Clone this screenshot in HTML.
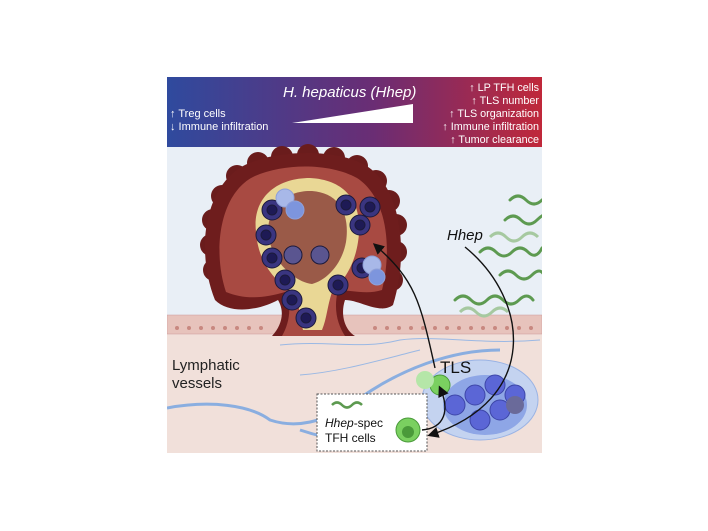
<!DOCTYPE html>
<html><head><meta charset="utf-8"><style>
html,body{margin:0;padding:0;background:#fff;width:708px;height:531px;overflow:hidden}
svg{display:block}
text{font-family:"Liberation Sans",sans-serif}
</style></head><body>
<svg width="708" height="531" viewBox="0 0 708 531" xmlns="http://www.w3.org/2000/svg">
<defs>
<linearGradient id="ban" x1="0" x2="1" y1="0" y2="0">
<stop offset="0" stop-color="#2f4a9e"/><stop offset="0.55" stop-color="#6a2d74"/><stop offset="1" stop-color="#c0283a"/>
</linearGradient>
<clipPath id="cp"><rect x="167" y="77" width="375" height="376"/></clipPath>
<marker id="ah" markerWidth="8" markerHeight="8" refX="6" refY="4" orient="auto"><path d="M0,0 L8,4 L0,8 z" fill="#111"/></marker>
</defs>
<g clip-path="url(#cp)">
<rect x="167" y="147" width="375" height="168" fill="#e9eff6"/>
<rect x="167" y="333" width="375" height="120" fill="#f1e0da"/>
<rect x="167" y="77" width="375" height="70" fill="url(#ban)"/>
<text x="283" y="97" fill="#fff" font-size="15" font-style="italic">H. hepaticus (Hhep)</text>
<polygon points="292,123 413,104 413,123" fill="#fff"/>
<text x="170" y="117" fill="#fff" font-size="11">↑ Treg cells</text>
<text x="170" y="130" fill="#fff" font-size="11">↓ Immune infiltration</text>
<g fill="#fff" font-size="10.8" text-anchor="end">
<text x="539" y="91">↑ LP TFH cells</text>
<text x="539" y="104">↑ TLS number</text>
<text x="539" y="117">↑ TLS organization</text>
<text x="539" y="130">↑ Immune infiltration</text>
<text x="539" y="143">↑ Tumor clearance</text>
</g>
<rect x="167" y="315" width="375" height="19" fill="#e7c3bc" stroke="#c99" stroke-width="0.5"/>
<g fill="#c88880">
<circle cx="177" cy="328" r="2"/><circle cx="189" cy="328" r="2"/><circle cx="201" cy="328" r="2"/><circle cx="213" cy="328" r="2"/><circle cx="225" cy="328" r="2"/><circle cx="237" cy="328" r="2"/><circle cx="249" cy="328" r="2"/><circle cx="261" cy="328" r="2"/>
<circle cx="375" cy="328" r="2"/><circle cx="387" cy="328" r="2"/><circle cx="399" cy="328" r="2"/><circle cx="411" cy="328" r="2"/><circle cx="423" cy="328" r="2"/><circle cx="435" cy="328" r="2"/><circle cx="447" cy="328" r="2"/><circle cx="459" cy="328" r="2"/><circle cx="471" cy="328" r="2"/><circle cx="483" cy="328" r="2"/><circle cx="495" cy="328" r="2"/><circle cx="507" cy="328" r="2"/><circle cx="519" cy="328" r="2"/><circle cx="531" cy="328" r="2"/>
</g>
<g fill="#6a1c1c">
<circle cx="214" cy="270" r="11"/><circle cx="211" cy="245" r="11"/><circle cx="213" cy="220" r="11"/><circle cx="222" cy="196" r="11"/><circle cx="237" cy="176" r="11"/><circle cx="258" cy="163" r="11"/><circle cx="282" cy="157" r="11"/><circle cx="308" cy="155" r="11"/><circle cx="334" cy="158" r="11"/><circle cx="357" cy="166" r="11"/><circle cx="376" cy="181" r="11"/><circle cx="389" cy="201" r="11"/><circle cx="396" cy="225" r="11"/><circle cx="396" cy="252" r="11"/><circle cx="392" cy="280" r="11"/>
</g>
<path d="M215,300 C195,250 205,185 245,165 C275,150 335,148 365,165 C400,185 410,250 393,305 C380,315 360,300 345,300 C340,315 345,330 355,336 L272,336 C282,325 285,312 278,300 C260,310 230,315 215,300 Z" fill="#6e1d1d"/>
<path d="M226,292 C212,250 220,192 255,176 C285,163 330,163 357,178 C388,198 392,250 382,290 C367,295 350,290 338,290 C333,310 338,325 345,336 L282,336 C290,322 292,305 285,292 C265,298 245,300 226,292 Z" fill="#a84a42"/>
<path d="M256,232 C252,198 276,178 310,178 C348,180 364,205 358,242 C354,268 342,282 332,292 C327,307 327,318 322,330 L303,330 C298,312 300,300 293,292 C275,282 258,262 256,232 Z" fill="#e9d795"/>
<path d="M268,232 C268,205 288,190 312,191 C340,193 350,215 346,242 C342,264 327,280 312,284 C294,282 270,260 268,232 Z" fill="#9a5a48"/>
<g stroke="#1c1a3c" stroke-width="1">
<circle cx="272" cy="210" r="10" fill="#3a3580"/><circle cx="272" cy="210" r="5" fill="#1e1a55"/>
<circle cx="266" cy="235" r="10" fill="#3a3580"/><circle cx="266" cy="235" r="5" fill="#1e1a55"/>
<circle cx="272" cy="258" r="10" fill="#3a3580"/><circle cx="272" cy="258" r="5" fill="#1e1a55"/>
<circle cx="285" cy="280" r="10" fill="#3a3580"/><circle cx="285" cy="280" r="5" fill="#1e1a55"/>
<circle cx="292" cy="300" r="10" fill="#3a3580"/><circle cx="292" cy="300" r="5" fill="#1e1a55"/>
<circle cx="306" cy="318" r="10" fill="#3a3580"/><circle cx="306" cy="318" r="5" fill="#1e1a55"/>
<circle cx="346" cy="205" r="10" fill="#3a3580"/><circle cx="346" cy="205" r="5" fill="#1e1a55"/>
<circle cx="370" cy="207" r="10" fill="#3a3580"/><circle cx="370" cy="207" r="5" fill="#1e1a55"/>
<circle cx="360" cy="225" r="10" fill="#3a3580"/><circle cx="360" cy="225" r="5" fill="#1e1a55"/>
<circle cx="362" cy="268" r="10" fill="#3a3580"/><circle cx="362" cy="268" r="5" fill="#1e1a55"/>
<circle cx="338" cy="285" r="10" fill="#3a3580"/><circle cx="338" cy="285" r="5" fill="#1e1a55"/>
<circle cx="293" cy="255" r="9" fill="#5a5590"/><circle cx="320" cy="255" r="9" fill="#5a5590"/>
</g>
<g stroke="#8fa0d8">
<circle cx="285" cy="198" r="9" fill="#a8b8e8"/><circle cx="295" cy="210" r="9" fill="#7d95dd"/>
<circle cx="372" cy="265" r="9" fill="#a8b8e8"/><circle cx="377" cy="277" r="8" fill="#7d95dd"/>
</g>
<g fill="none" stroke="#5d9a50" stroke-width="3" stroke-linecap="round">
<path d="M505,220 q8,-8 16,0 t16,0 t14,-6"/><path d="M480,252 q8,-8 16,0 t16,0 t16,0 t14,-4"/>
<path d="M455,300 q8,-8 16,0 t16,0 t16,0 t16,0 t14,0"/><path d="M510,200 q8,-8 16,0 t16,0"/>
<path d="M500,275 q8,-8 16,0 t16,0 t12,0"/>
</g>
<g fill="none" stroke="#a6c9a0" stroke-width="3"><path d="M490,237 q8,-8 16,0 t16,0 t16,0"/><path d="M460,312 q8,-8 16,0 t16,0 t16,0"/></g>
<text x="447" y="240" font-size="15" font-style="italic" fill="#111">Hhep</text>
<g fill="none" stroke="#8aaee0" stroke-width="3">
<path d="M167,408 C210,400 250,405 270,420 C300,430 330,420 360,398 C400,370 450,350 500,350"/>
<path d="M300,430 C330,440 360,445 400,440"/>
</g>
<g fill="none" stroke="#9ab8e4" stroke-width="1">
<path d="M280,345 C330,340 360,350 400,340 C440,335 480,345 540,340"/>
<path d="M300,375 C340,372 380,360 420,350"/>
</g>
<text x="172" y="370" font-size="15" fill="#222">Lymphatic</text>
<text x="172" y="388" font-size="15" fill="#222">vessels</text>
<ellipse cx="480" cy="400" rx="58" ry="40" fill="#c4d3f0" stroke="#9ab3e4"/>
<ellipse cx="485" cy="405" rx="42" ry="30" fill="#8ea6e6"/>
<g stroke="#3d46a8" fill="#5b66d6">
<circle cx="455" cy="405" r="10"/><circle cx="475" cy="395" r="10"/><circle cx="495" cy="385" r="10"/>
<circle cx="500" cy="410" r="10"/><circle cx="480" cy="420" r="10"/><circle cx="515" cy="395" r="10"/>
</g>
<circle cx="515" cy="405" r="9" fill="#6a6a9a"/><circle cx="440" cy="385" r="10" fill="#7ad060" stroke="#4a9a3a"/>
<circle cx="425" cy="380" r="9" fill="#b5e6a8"/>
<text x="440" y="373" font-size="17" fill="#111">TLS</text>
<rect x="317" y="394" width="110" height="57" fill="#fff" stroke="#555" stroke-dasharray="2,1.5"/>
<path d="M332,405 q5,-5 10,0 t10,0 t10,0" fill="none" stroke="#5d9a50" stroke-width="2.5"/>
<text x="325" y="427" font-size="12" fill="#111"><tspan font-style="italic">Hhep</tspan>-spec</text>
<text x="325" y="442" font-size="12" fill="#111">TFH cells</text>
<circle cx="408" cy="430" r="12" fill="#7ad060" stroke="#4a9a3a"/><circle cx="408" cy="432" r="6" fill="#4a9a3a"/>
<g fill="none" stroke="#111" stroke-width="1.4">
<path d="M435,368 C420,300 415,280 375,245" marker-end="url(#ah)"/>
<path d="M422,430 C445,428 450,410 440,388" marker-end="url(#ah)"/>
<path d="M465,247 C530,300 540,400 430,435" marker-end="url(#ah)"/>
</g>
</g>
</svg>
</body></html>
